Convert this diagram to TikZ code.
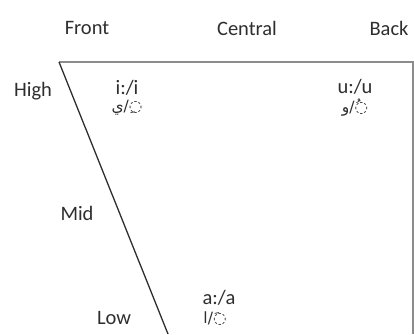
\documentclass[tikz,border=0pt]{standalone}
\usepackage{fontspec}
\setmainfont{Carlito}
\newfontfamily\arabicfont[Script=Arabic]{DejaVu Sans}
\TeXXeTstate=1
\definecolor{inkgray}{HTML}{2E2E2E}
\definecolor{framegray}{HTML}{8C8C8C}

\begin{document}
\begin{tikzpicture}[x=1pt,y=-1pt,lbl/.style = {text=inkgray, inner sep=0pt, font=\fontsize{20.5}{22}\selectfont},arb/.style = {text=inkgray, inner sep=0pt, font=\arabicfont\fontsize{15.5}{17}\selectfont}]
\useasboundingbox (0,0) rectangle (414,334);
\coordinate (tl) at (59,62);
\coordinate (tr) at (413,62);
\coordinate (br) at (413,334);
\coordinate (bl) at (168,334);
% frame of the vowel chart
\draw[framegray, line width=1.4pt] (tl) -- (tr) -- (br);
\draw[inkgray, line width=1.3pt] (tl) -- (bl);
% columns and rows
\foreach \name/\txt/\x/\y in {front/Front/87/28,central/Central/247/28,back/Back/389/28,high/High/33/91,mid/Mid/77/213,low/Low/114/318}
\node (\name) [lbl] at (\x,\y) {\txt};
% vowels
\node (ilong) [lbl] at (127,88) {i:/i};
\node (iar) [arb] at (127,108) {\beginR ◌ِ/ي\endR};
\node (ulong) [lbl] at (355,87) {u:/u};
\node (uar) [arb] at (355,108) {\beginR ◌ُ/و\endR};
\node (along) [lbl] at (219,298) {a:/a};
\node (aar) [arb] at (215,319) {\beginR ◌َ/ا\endR};
\end{tikzpicture}
\end{document}
